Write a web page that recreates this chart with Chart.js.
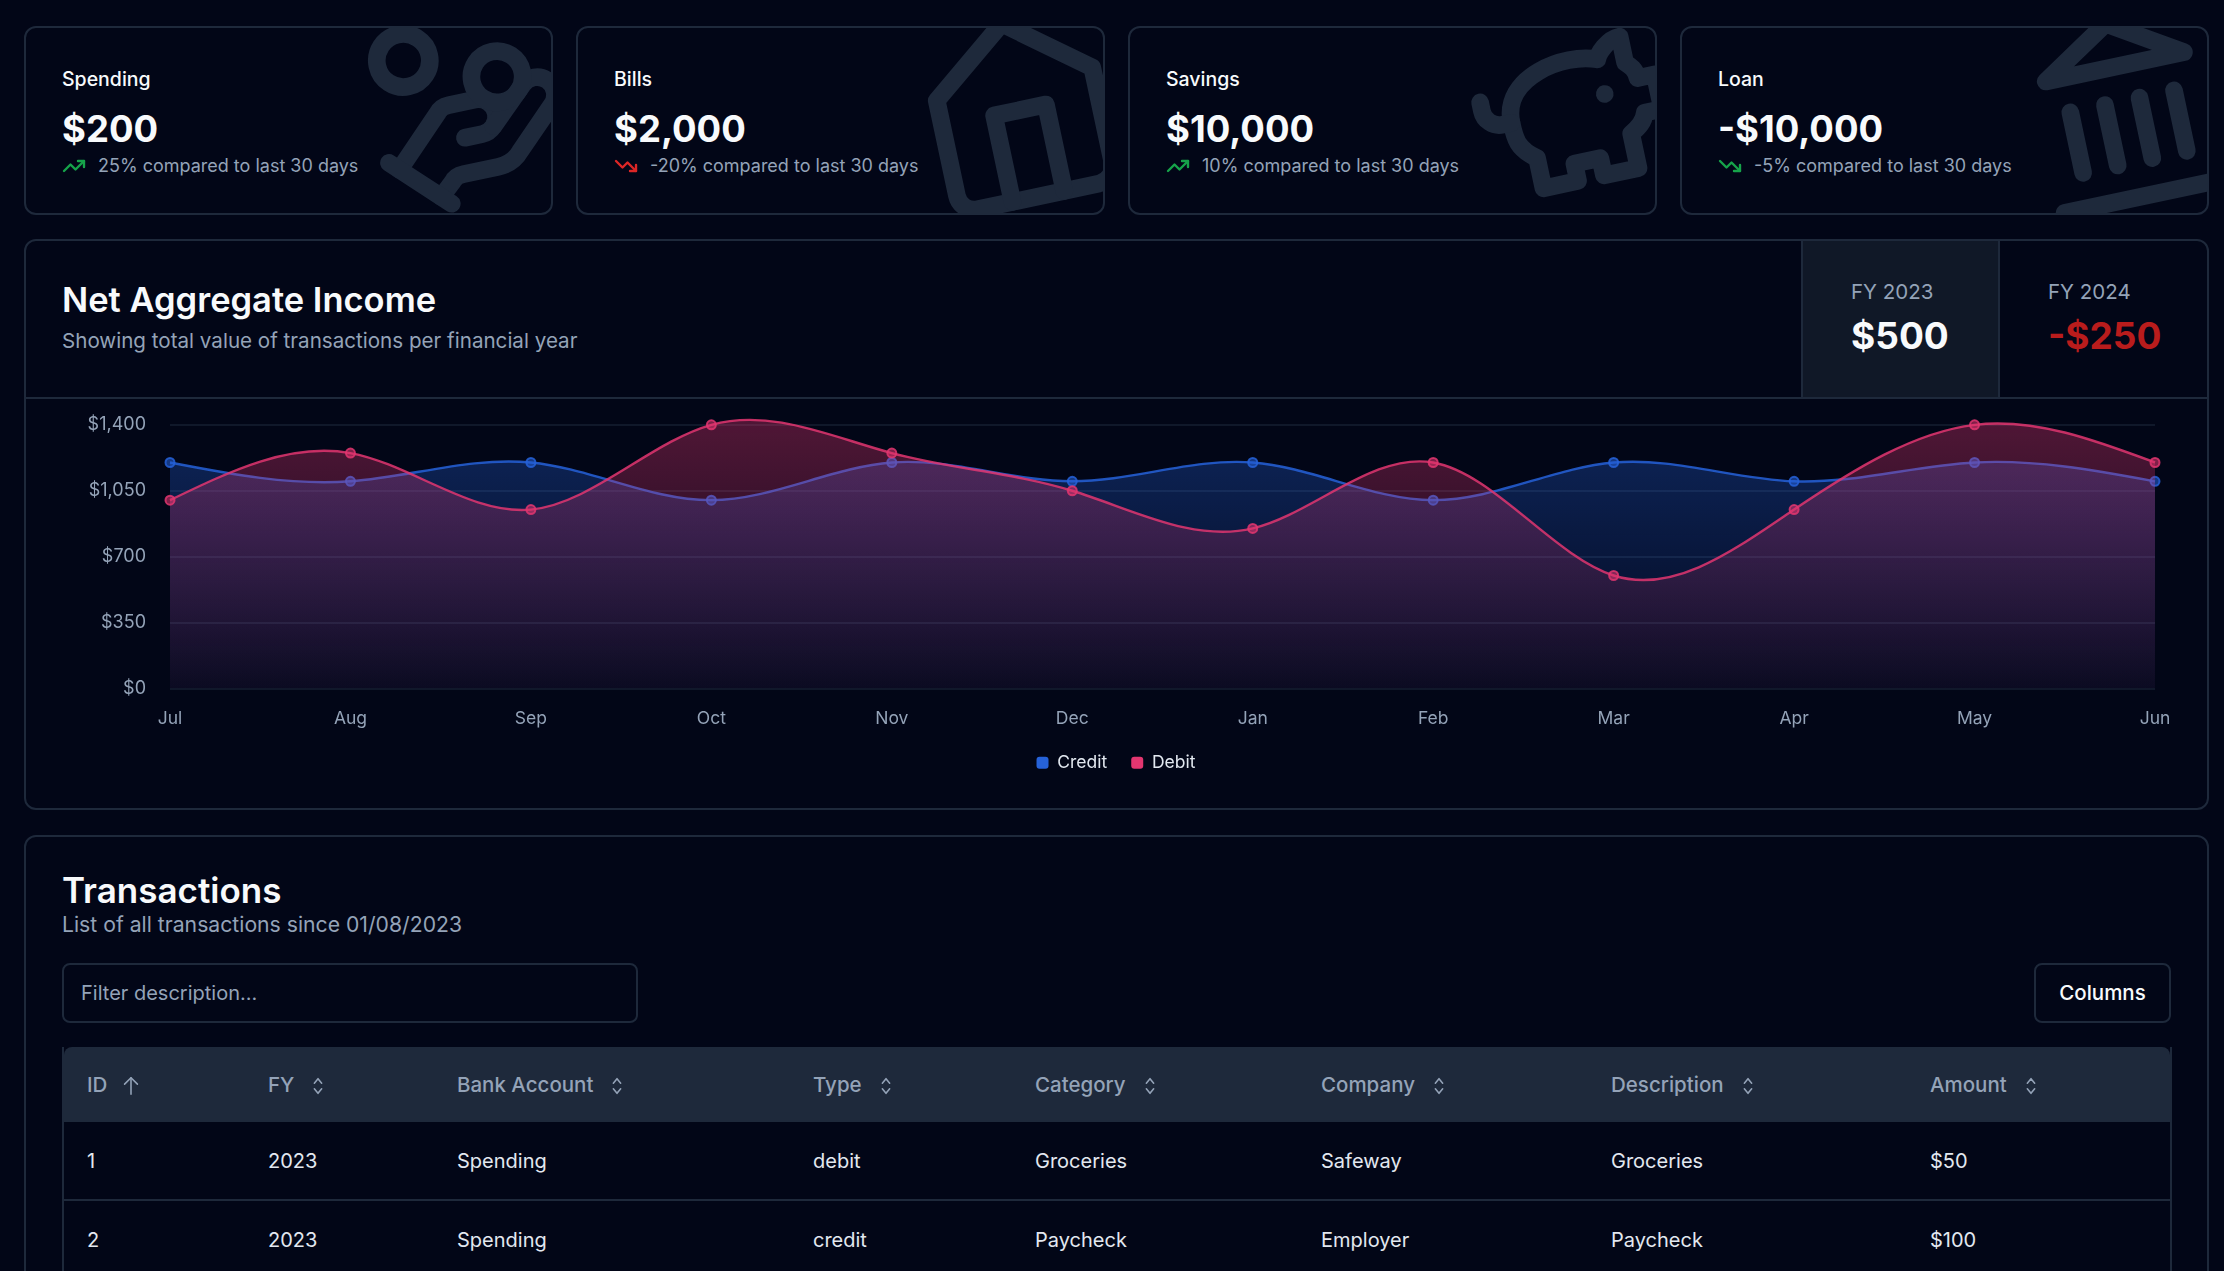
<!DOCTYPE html>
<html>
<head>
<meta charset="utf-8">
<title>Net Aggregate Income</title>
<script src="https://cdn.jsdelivr.net/npm/chart.js@4"></script>
<style>
    * { box-sizing: border-box; }
    html, body { margin: 0; height: 100%; overflow: hidden; background: #020617; color: #f8fafc; font-family: Inter, sans-serif; }
    .panel { position: absolute; border: 2px solid #1e293b; border-radius: 12px; overflow: hidden; }

    .stat { top: 26px; width: 529px; height: 189px; }
    .stat .bg-icon { position: absolute; right: -23px; top: -24px; width: 212px; height: 212px; transform: rotate(-12deg); fill: none; stroke: #1e293b; stroke-width: 2; stroke-linecap: round; stroke-linejoin: round; }
    .stat .name { position: absolute; left: 36px; top: 39px; font-size: 19.5px; font-weight: 500; line-height: 24px; }
    .stat .value { position: absolute; left: 36px; top: 78.5px; font-size: 36.5px; font-weight: 700; line-height: 44px; }
    .stat .delta { position: absolute; left: 36px; top: 124.5px; font-size: 18px; line-height: 26px; color: #94a3b8; display: flex; align-items: center; gap: 12px; }
    .stat .delta svg { width: 24px; height: 24px; fill: none; stroke-width: 2.4; stroke-linecap: round; stroke-linejoin: round; }

    #chart-panel { left: 24px; top: 239px; width: 2185px; height: 571px; }
    .head-line { position: absolute; left: 0; right: 0; top: 156px; border-top: 2px solid #1e293b; }
    .title { position: absolute; left: 36px; font-size: 34.5px; font-weight: 600; line-height: 42px; margin: 0; }
    .sub { position: absolute; left: 36px; font-size: 20.6px; line-height: 26px; color: #94a3b8; margin: 0; }
    .fy { position: absolute; top: 0; height: 156px; border-left: 2px solid #1e293b; }
    .fy .lbl { position: absolute; left: 48px; top: 37.5px; font-size: 20.5px; line-height: 26px; color: #94a3b8; }
    .fy .amt { position: absolute; left: 48px; top: 72.5px; font-size: 37px; font-weight: 700; line-height: 44px; }
    #chart-box { position: absolute; left: 0; top: 158px; width: 2180px; height: 409px; }

    #table-panel { left: 24px; top: 835px; width: 2185px; height: 460px; }
    .filter { position: absolute; left: 36px; top: 126px; width: 576px; height: 60px; border: 2px solid #1e293b; border-radius: 8px; padding-left: 17px; line-height: 56px; font-size: 20px; color: #94a3b8; }
    .columns { position: absolute; left: 2008px; top: 126px; width: 137px; height: 60px; border: 2px solid #1e293b; border-radius: 8px; text-align: center; line-height: 56px; font-size: 20.5px; font-weight: 500; }
    table { position: absolute; left: 36px; top: 210px; width: 2110px; table-layout: fixed; border-collapse: separate; border-spacing: 0; font-size: 20px; border-right: 2px solid #1e293b; border-left: 2px solid #1e293b; }
    th { height: 75px; background: #1e293b; color: #94a3b8; font-size: 20.5px; font-weight: 500; text-align: left; padding-left: 23px; white-space: nowrap; }
    th:first-child { border-top-left-radius: 8px; }
    th:last-child { border-top-right-radius: 8px; }
    th svg { width: 22px; height: 22px; margin-left: 13px; vertical-align: -5px; fill: none; stroke: #94a3b8; stroke-width: 1.7; stroke-linecap: round; stroke-linejoin: round; }
    td { height: 79px; padding: 1px 0 0 23px; color: #e2e8f0; border-bottom: 2px solid #1e293b; white-space: nowrap; }
</style>
</head>
<body>

<div class="panel stat" style="left:24px">
    <svg class="bg-icon" viewBox="0 0 24 24"><path d="M11 15h2a2 2 0 1 0 0-4h-3c-.6 0-1.1.2-1.4.6L3 17"/><path d="m7 21 1.6-1.4c.3-.4.8-.6 1.4-.6h4c1.1 0 2.1-.4 2.8-1.2l4.6-4.4a2 2 0 0 0-2.75-2.91l-4.2 3.9"/><path d="m2 16 6 6"/><circle cx="16" cy="9" r="2.9"/><circle cx="6" cy="5" r="3"/></svg>
    <div class="name">Spending</div>
    <div class="value">$200</div>
    <div class="delta"><svg viewBox="0 0 24 24" stroke="#16a34a"><polyline points="22 7 13.5 15.5 8.5 10.5 2 17"/><polyline points="16 7 22 7 22 13"/></svg>25% compared to last 30 days</div>
</div>
<div class="panel stat" style="left:576px">
    <svg class="bg-icon" viewBox="0 0 24 24"><path d="m3 9 9-7 9 7v11a2 2 0 0 1-2 2H5a2 2 0 0 1-2-2z"/><polyline points="9 22 9 12 15 12 15 22"/></svg>
    <div class="name">Bills</div>
    <div class="value">$2,000</div>
    <div class="delta"><svg viewBox="0 0 24 24" stroke="#dc2626"><polyline points="22 17 13.5 8.5 8.5 13.5 2 7"/><polyline points="16 17 22 17 22 11"/></svg>-20% compared to last 30 days</div>
</div>
<div class="panel stat" style="left:1128px">
    <svg class="bg-icon" viewBox="0 0 24 24"><path d="M19 5c-1.5 0-2.8 1.4-3 2-3.5-1.5-11-.3-11 5 0 1.8 0 3 2 4.5V20h4v-2h3v2h4v-4c1-.5 1.7-1 2-2h2v-4h-2c0-1-.5-1.5-1-2h0V5z"/><path d="M2 9v1c0 1.1.9 2 2 2h1"/><path d="M16 11h0"/></svg>
    <div class="name">Savings</div>
    <div class="value">$10,000</div>
    <div class="delta"><svg viewBox="0 0 24 24" stroke="#16a34a"><polyline points="22 7 13.5 15.5 8.5 10.5 2 17"/><polyline points="16 7 22 7 22 13"/></svg>10% compared to last 30 days</div>
</div>
<div class="panel stat" style="left:1680px">
    <svg class="bg-icon" viewBox="0 0 24 24"><line x1="3" x2="21" y1="22" y2="22"/><line x1="6" x2="6" y1="18" y2="11"/><line x1="10" x2="10" y1="18" y2="11"/><line x1="14" x2="14" y1="18" y2="11"/><line x1="18" x2="18" y1="18" y2="11"/><polygon points="12 2 20 7 4 7"/></svg>
    <div class="name">Loan</div>
    <div class="value">-$10,000</div>
    <div class="delta"><svg viewBox="0 0 24 24" stroke="#16a34a"><polyline points="22 17 13.5 8.5 8.5 13.5 2 7"/><polyline points="16 17 22 17 22 11"/></svg>-5% compared to last 30 days</div>
</div>

<div class="panel" id="chart-panel">
    <h2 class="title" style="top:37.5px">Net Aggregate Income</h2>
    <p class="sub" style="top:86.5px">Showing total value of transactions per financial year</p>
    <div class="fy" style="left:1775px;width:197px;background:#101827">
        <div class="lbl">FY 2023</div>
        <div class="amt">$500</div>
    </div>
    <div class="fy" style="left:1972px;width:211px">
        <div class="lbl">FY 2024</div>
        <div class="amt" style="color:#b91c1c">-$250</div>
    </div>
    <div class="head-line"></div>
    <div id="chart-box"><canvas id="incomeChart"></canvas></div>
</div>

<div class="panel" id="table-panel">
    <h2 class="title" style="top:31.5px;font-size:35px">Transactions</h2>
    <p class="sub" style="top:73.5px;font-size:21.2px">List of all transactions since 01/08/2023</p>
    <div class="filter">Filter description...</div>
    <div class="columns">Columns</div>
    <table id="tx-table"></table>
</div>

<script>
const months = ['Jul', 'Aug', 'Sep', 'Oct', 'Nov', 'Dec', 'Jan', 'Feb', 'Mar', 'Apr', 'May', 'Jun'];
const creditValues = [1200, 1100, 1200, 1000, 1200, 1100, 1200, 1000, 1200, 1100, 1200, 1100];
const debitValues = [1000, 1250, 950, 1400, 1250, 1050, 850, 1200, 600, 950, 1400, 1200];
const yTicks = [0, 350, 700, 1050, 1400];

const txColumns = ['ID', 'FY', 'Bank Account', 'Type', 'Category', 'Company', 'Description', 'Amount'];
const txRows = [
    ['1', '2023', 'Spending', 'debit', 'Groceries', 'Safeway', 'Groceries', '$50'],
    ['2', '2023', 'Spending', 'credit', 'Paycheck', 'Employer', 'Paycheck', '$100']
];
const txColWidths = [181, 189, 356, 222, 286, 290, 319, 263];

const CREDIT_COLOR = '#2662d9';
const DEBIT_COLOR = '#e23670';
const FONT = 'Inter';

function renderTable() {
    const sortIcon = '<svg viewBox="0 0 24 24"><path d="m8 15 4 5 4-5"/><path d="m8 9 4-5 4 5"/></svg>';
    const upIcon = '<svg viewBox="0 0 24 24"><path d="m5 10 7-7 7 7"/><path d="M12 21V3"/></svg>';
    const cols = txColWidths.map(w => `<col style="width:${w}px">`).join('');
    const head = txColumns.map((c, i) => `<th>${c}${i === 0 ? upIcon : sortIcon}</th>`).join('');
    const body = txRows.map(r => '<tr>' + r.map(v => `<td>${v}</td>`).join('') + '</tr>').join('');
    document.getElementById('tx-table').innerHTML = `<colgroup>${cols}</colgroup><thead><tr>${head}</tr></thead><tbody>${body}</tbody>`;
}

// same maths as a natural cubic spline, per axis
function naturalControls(v) {
    const n = v.length - 1;
    const a = new Array(n), b = new Array(n), r = new Array(n);
    a[0] = 0; b[0] = 2; r[0] = v[0] + 2 * v[1];
    for (let i = 1; i < n - 1; i++) { a[i] = 1; b[i] = 4; r[i] = 4 * v[i] + 2 * v[i + 1]; }
    a[n - 1] = 2; b[n - 1] = 7; r[n - 1] = 8 * v[n - 1] + v[n];
    for (let i = 1; i < n; i++) {
        const m = a[i] / b[i - 1];
        b[i] -= m;
        r[i] -= m * r[i - 1];
    }
    a[n - 1] = r[n - 1] / b[n - 1];
    for (let i = n - 2; i >= 0; i--) a[i] = (r[i] - a[i + 1]) / b[i];
    b[n - 1] = (v[n] + a[n - 1]) / 2;
    for (let i = 0; i < n - 1; i++) b[i] = 2 * v[i + 1] - a[i + 1];
    return [a, b];
}

// Chart.js only has its own tension curve, so swap the control points after layout
const naturalCurve = {
    id: 'naturalCurve',
    afterDatasetsUpdate(chart) {
        chart.data.datasets.forEach((ds, i) => {
            const line = chart.getDatasetMeta(i).dataset;
            line.updateControlPoints(chart.chartArea, 'x');
            const pts = line.points;
            const [ax, bx] = naturalControls(pts.map(p => p.x));
            const [ay, by] = naturalControls(pts.map(p => p.y));
            for (let k = 0; k < pts.length - 1; k++) {
                pts[k].cp2x = ax[k];
                pts[k].cp2y = ay[k];
                pts[k + 1].cp1x = bx[k];
                pts[k + 1].cp1y = by[k];
            }
        });
    }
};

function areaFill(color) {
    return (ctx) => {
        const chart = ctx.chart;
        if (!chart.chartArea) return 'transparent';
        const yScale = chart.scales.y;
        const g = chart.ctx.createLinearGradient(0, yScale.getPixelForValue(1400), 0, yScale.getPixelForValue(0));
        g.addColorStop(0, color + '58');
        g.addColorStop(1, color + '0a');
        return g;
    };
}

function renderChart() {
    const ctx = document.getElementById('incomeChart').getContext('2d');
    new Chart(ctx, {
        type: 'line',
        data: {
            labels: months,
            datasets: [{
                label: 'Credit',
                data: creditValues,
                borderColor: CREDIT_COLOR + 'd8',
                backgroundColor: areaFill(CREDIT_COLOR),
                pointBackgroundColor: CREDIT_COLOR + '90',
                pointBorderColor: CREDIT_COLOR + 'd8',
                order: 1
            }, {
                label: 'Debit',
                data: debitValues,
                borderColor: DEBIT_COLOR + 'd8',
                backgroundColor: areaFill(DEBIT_COLOR),
                pointBackgroundColor: DEBIT_COLOR + '90',
                pointBorderColor: DEBIT_COLOR + 'd8',
                order: 0
            }]
        },
        options: {
            responsive: true,
            maintainAspectRatio: false,
            animation: false,
            // left and right padding match so the legend stays centred on the panel
            layout: { padding: { top: 16.4, right: 51, bottom: 26.5, left: 51 } },
            elements: {
                line: { tension: 0.4, borderWidth: 2.4, fill: 'origin' },
                point: { radius: 4.5, borderWidth: 2 }
            },
            datasets: { line: { clip: false } },
            plugins: {
                tooltip: { enabled: false },
                legend: {
                    position: 'bottom',
                    labels: {
                        color: '#e2e8f0',
                        font: { family: FONT, size: 17.5 },
                        boxWidth: 12,
                        boxHeight: 12,
                        useBorderRadius: true,
                        borderRadius: 3,
                        padding: 24,
                        generateLabels: (chart) => chart.data.datasets.map((ds, i) => ({
                            text: ds.label,
                            fillStyle: [CREDIT_COLOR, DEBIT_COLOR][i],
                            strokeStyle: [CREDIT_COLOR, DEBIT_COLOR][i],
                            fontColor: '#e2e8f0',
                            lineWidth: 0,
                            borderRadius: 3,
                            datasetIndex: i
                        }))
                    }
                }
            },
            scales: {
                x: {
                    grid: { display: false },
                    border: { display: false },
                    ticks: { color: '#94a3b8', font: { family: FONT, size: 17.5 }, padding: 12, maxRotation: 0, autoSkip: false },
                    afterFit: (axis) => { axis.height = 41.5; }
                },
                y: {
                    min: 0,
                    max: 1450,
                    afterBuildTicks: (axis) => { axis.ticks = yTicks.map(v => ({ value: v })); },
                    grid: { color: '#10182a', lineWidth: 2, drawTicks: false },
                    border: { display: false },
                    ticks: {
                        color: '#94a3b8',
                        font: { family: FONT, size: 18 },
                        padding: 24,
                        callback: (v) => '$' + v.toLocaleString('en-US')
                    },
                    afterFit: (axis) => {
                        axis.width = 93;
                        axis.paddingTop = 0;
                        axis.paddingBottom = 0;
                    }
                }
            }
        },
        plugins: [naturalCurve]
    });
}

document.addEventListener('DOMContentLoaded', () => {
    renderTable();
    renderChart();
});
</script>
</body>
</html>
